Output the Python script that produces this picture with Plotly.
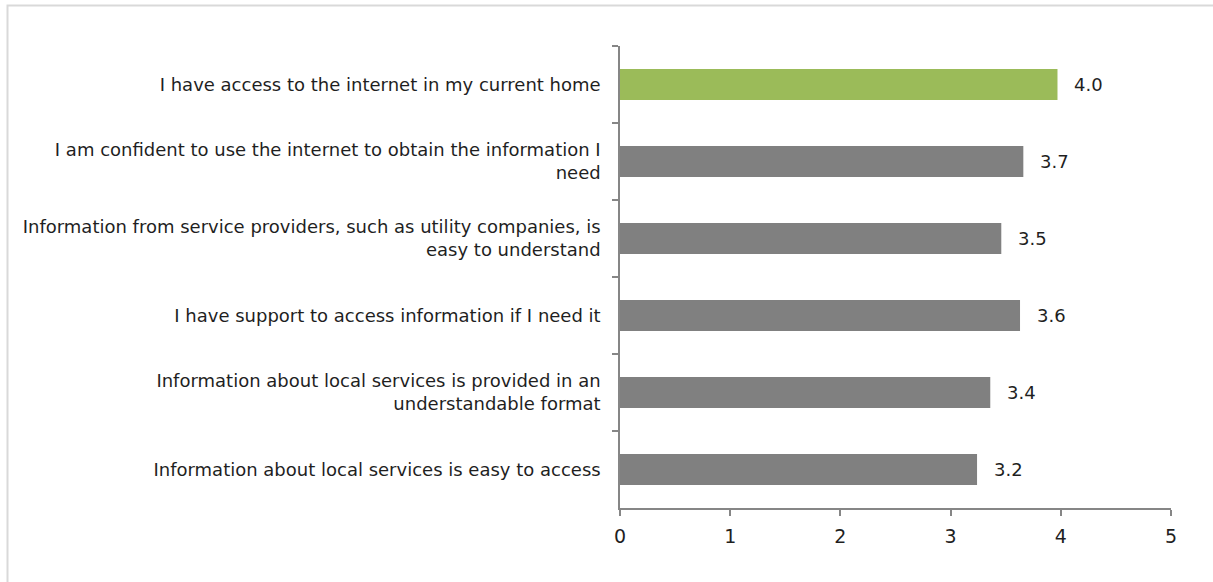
import plotly.graph_objects as go

categories = [
    "I have access to the internet in my current home",
    "I am confident to use the internet to obtain the information I<br>need",
    "Information from service providers, such as utility companies, is<br>easy to understand",
    "I have support to access information if I need it",
    "Information about local services is provided in an<br>understandable format",
    "Information about local services is easy to access",
]
values = [3.97, 3.66, 3.46, 3.63, 3.36, 3.24]
bar_colors = ["#9BBB59", "#808080", "#808080", "#808080", "#808080", "#808080"]
x_ticks = [0, 1, 2, 3, 4, 5]

W, H = 1213, 582
L, R, T, B = 620, 42, 46, 74
FONT = "DejaVu Sans"
TXT = "#1f1f1f"
AX = "#868686"

fig = go.Figure()
fig.add_trace(go.Bar(
    x=values, y=categories, orientation="h",
    marker=dict(color=bar_colors, line=dict(width=0)),
    hoverinfo="skip",
))

for v, c in zip(values, categories):
    fig.add_annotation(x=v, y=c, text=f"{v:.1f}", showarrow=False,
                       xanchor="left", yanchor="middle", xshift=15,
                       font=dict(family=FONT, size=18, color=TXT))

# light grey frame (left and top edges)
pw = W - L - R
ph = H - T - B
def px_x(px):
    return (px - L) / pw
def px_y(py):
    return (H - B - py) / ph
fig.add_shape(type="path", xref="paper", yref="paper",
              path=f"M {px_x(7.5)} {px_y(590)} L {px_x(7.5)} {px_y(5.5)} L {px_x(1220)} {px_y(5.5)}",
              line=dict(color="#d9d9d9", width=2))

fig.update_layout(
    width=W, height=H,
    margin=dict(l=L, r=R, t=T, b=B, autoexpand=False),
    paper_bgcolor="white", plot_bgcolor="white",
    bargap=0.6, showlegend=False,
    font=dict(family=FONT, size=18, color=TXT),
    xaxis=dict(range=[0, 5], tickvals=x_ticks, ticktext=[str(t) for t in x_ticks],
               showgrid=False, zeroline=False, showline=True, linecolor=AX, linewidth=1.5,
               ticks="outside", ticklen=6, tickcolor=AX, tickwidth=1.5,
               ticklabelstandoff=4,
               tickfont=dict(family=FONT, size=19, color=TXT)),
    yaxis=dict(autorange="reversed", type="category", tickson="boundaries",
               showgrid=False, zeroline=False, showline=True, linecolor=AX, linewidth=1.5,
               ticks="outside", ticklen=6, tickcolor=AX, tickwidth=1.5,
               ticklabelstandoff=14,
               tickfont=dict(family=FONT, size=18, color=TXT)),
)

fig.write_html("out.html",
               config={"displayModeBar": False},
               post_script="document.body.style.margin='0';document.body.style.padding='0';")
